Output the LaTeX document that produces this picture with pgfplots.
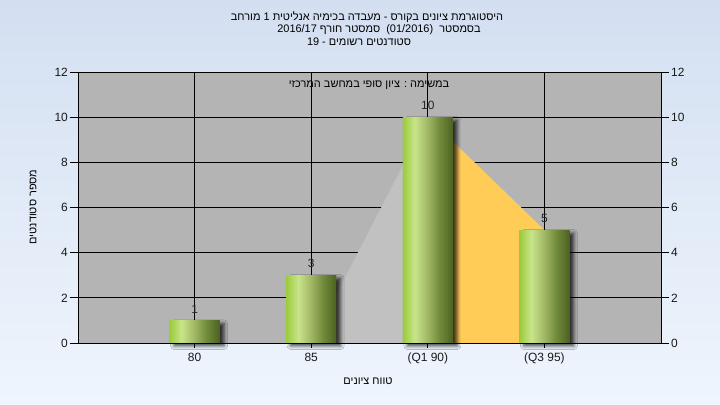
\documentclass[border=0pt]{standalone}
\usepackage{pgfplots}
\pgfplotsset{compat=1.18}
\usepackage{fontspec}
\setmainfont{Liberation Sans}
\newfontfamily\heb[Script=Hebrew]{Liberation Sans}
\TeXXeTstate=1
\usetikzlibrary{shadows.blur}
\definecolor{bgtop}{RGB}{211,223,241}
\definecolor{bgbot}{RGB}{239,245,253}
\definecolor{plotbg}{RGB}{180,180,180}
\definecolor{areagray}{RGB}{193,193,193}
\definecolor{areaorange}{RGB}{255,204,88}
\definecolor{g1}{RGB}{155,203,59}
\definecolor{g2}{RGB}{200,228,138}
\definecolor{g3}{RGB}{160,182,100}
\definecolor{g4}{RGB}{112,138,58}
\definecolor{g5}{RGB}{76,98,34}
\pgfdeclarehorizontalshading{cyl}{100bp}{color(0bp)=(g1); color(25bp)=(g1); color(37bp)=(g2); color(50bp)=(g3); color(62bp)=(g4); color(75bp)=(g5); color(100bp)=(g5)}
\newcommand{\tfont}{\fontsize{11}{13}\selectfont}
\pgfplotsset{cylbar/.style={ybar, bar shift=0pt, draw=none, shading=cyl,
  preaction={blur shadow={shadow xshift=4.5bp, shadow yshift=-3bp, shadow blur radius=3.5bp, shadow opacity=75}}}}
\begin{document}
\begin{tikzpicture}
\path[use as bounding box] (0,0) rectangle (720bp,405bp);
\shade[top color=bgtop, bottom color=bgbot] (0,0) rectangle (720bp,405bp);
\begin{axis}[
  at={(78bp,62bp)}, anchor=south west, scale only axis,
  width=583bp, height=271bp,
  xmin=0, xmax=5, ymin=0, ymax=12,
  xtick={1,2,3,4}, xticklabels={80,85,(Q1 90),(Q3 95)},
  ytick={0,2,...,12},
  xtick pos=bottom, ytick pos=left,
  tick align=outside, major tick length=8bp,
  xtick style={/pgfplots/major tick length=5bp},
  grid=major, major grid style={black, line width=0.8bp},
  axis line style={black, line width=0.8bp},
  tick style={black, line width=0.8bp},
  axis background/.style={fill=plotbg},
  ticklabel style={font=\fontsize{12}{14}\selectfont, inner sep=2bp, text=black!90},
  /pgf/number format/assume math mode=true,
  clip=false,
  bar width=50bp,
]
\addplot[fill=areagray, draw=none] coordinates {(2,0) (3,10)} \closedcycle;
\addplot[fill=areaorange, draw=none] coordinates {(3,10) (4,5)} \closedcycle;
\addplot[cylbar] coordinates {(1,1)};
\addplot[cylbar] coordinates {(2,3)};
\addplot[cylbar] coordinates {(3,10)};
\addplot[cylbar] coordinates {(4,5)};
\addplot[draw=none, mark=none, nodes near coords,
  every node near coord/.append style={font=\fontsize{12}{14}\selectfont, text=black!85, inner sep=2bp, yshift=5bp}]
  coordinates {(1,1) (2,3) (3,10) (4,5)};
\end{axis}
\begin{axis}[
  at={(78bp,62bp)}, anchor=south west, scale only axis,
  width=583bp, height=271bp,
  xmin=0, xmax=5, ymin=0, ymax=12,
  axis x line=none, axis y line*=right,
  ytick={0,2,...,12},
  tick align=outside, major tick length=8bp,
  axis line style={black, line width=0.8bp},
  tick style={black, line width=0.8bp},
  ticklabel style={font=\fontsize{12}{14}\selectfont, inner sep=2bp, text=black!90},
  /pgf/number format/assume math mode=true,
]
\addplot[draw=none] coordinates {(0,0)};
\end{axis}
\node[font=\tfont\heb] at (367bp,388bp) {\beginR היסטוגרמת ציונים בקורס - מעבדה בכימיה אנליטית 1 מורחב\endR};
\node[font=\tfont\heb] at (379bp,375.5bp) {\beginR בסמסטר \ \beginL(01/2016)\endL{} \ סמסטר חורף \beginL2016/17\endL{}\endR};
\node[font=\tfont\heb] at (359bp,363bp) {\beginR סטודנטים רשומים - \beginL19\endL{}\endR};
\node[font=\tfont\heb] at (369bp,320bp) {\beginR במשימה : ציון סופי במחשב המרכזי\endR};
\node[font=\tfont\heb] at (368bp,24bp) {\beginR טווח ציונים\endR};
\node[font=\tfont\heb, rotate=90] at (33bp,198bp) {\beginR מספר סטודנטים\endR};
\end{tikzpicture}
\end{document}
